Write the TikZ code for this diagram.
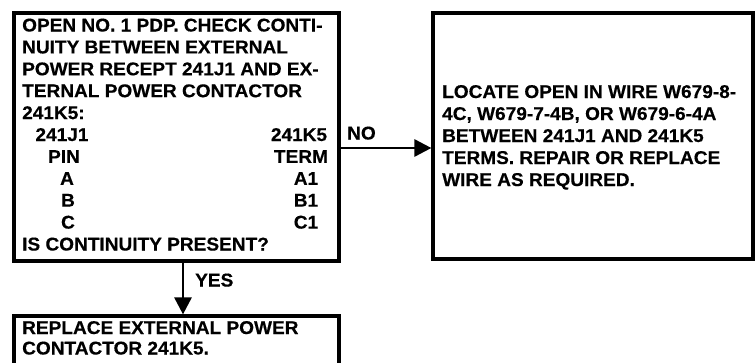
\documentclass[tikz,border=0pt]{standalone}
\usepackage{fontspec}
\setmainfont[FakeStretch=1.03,FakeBold=0.4]{Liberation Sans}
\usetikzlibrary{arrows.meta}
\newcommand{\lbl}{\fontsize{18.5}{21.9}\selectfont\bfseries}
\begin{document}
\begin{tikzpicture}[x=1pt,y=-1pt,
  box/.style={draw, line width=3.2pt, rectangle, inner sep=0pt},
  txt/.style={anchor=base west, inner sep=0pt, font=\lbl},
  ctxt/.style={anchor=base, inner sep=0pt, font=\lbl},
  conn/.style={line width=2.8pt, -{Triangle[length=17pt,width=17pt]}}]
\useasboundingbox (0,0) rectangle (755,362);
\clip (0,0) rectangle (755,362);
% boxes
\node[box, minimum width=325pt, minimum height=248pt] (q) at (176.5,137) {};
\node[box, minimum width=320pt, minimum height=246pt] (fix) at (593,136) {};
\node[box, minimum width=325pt, minimum height=90pt] (rep) at (176.5,361) {};
% question text
\foreach \t [count=\i from 0] in {OPEN NO. 1 PDP. CHECK CONTI-,NUITY BETWEEN EXTERNAL,POWER RECEPT 241J1 AND EX-,TERNAL POWER CONTACTOR,241K5:}
  \node[txt] (ql\i) at (22,31.5+21.9*\i) {\t};
\node[txt] (ql10) at (22,250.5) {IS CONTINUITY PRESENT?};
\foreach \a/\xa/\b/\xb [count=\i from 5] in {241J1/62/241K5/299, PIN/64/TERM/301, A/67/A1/306, B/68/B1/306, C/68/C1/306} {
  \node[ctxt] (qa\i) at (\xa,31.5+21.9*\i) {\a};
  \node[ctxt] (qb\i) at (\xb,31.5+21.9*\i) {\b};
}
% fix text
\foreach \t [count=\i from 0] in {LOCATE OPEN IN WIRE W679-8-,{4C, W679-7-4B, OR W679-6-4A},BETWEEN 241J1 AND 241K5,TERMS. REPAIR OR REPLACE,WIRE AS REQUIRED.}
  \node[txt] (fl\i) at (442,98+22*\i) {\t};
% replace text
\node[txt] (rl0) at (22,334) {REPLACE EXTERNAL POWER};
\node[txt] (rl1) at (22,354.5) {CONTACTOR 241K5.};
% connectors
\coordinate (noy) at (0,148);
\coordinate (yesx) at (183,0);
\draw[conn] (q.east |- noy) -- (fix.west |- noy);
\draw[conn] (q.south -| yesx) -- (rep.north -| yesx);
\node[txt] (nolbl) at (347,139.5) {NO};
\node[txt] (yeslbl) at (195,286.5) {YES};
\end{tikzpicture}
\end{document}
